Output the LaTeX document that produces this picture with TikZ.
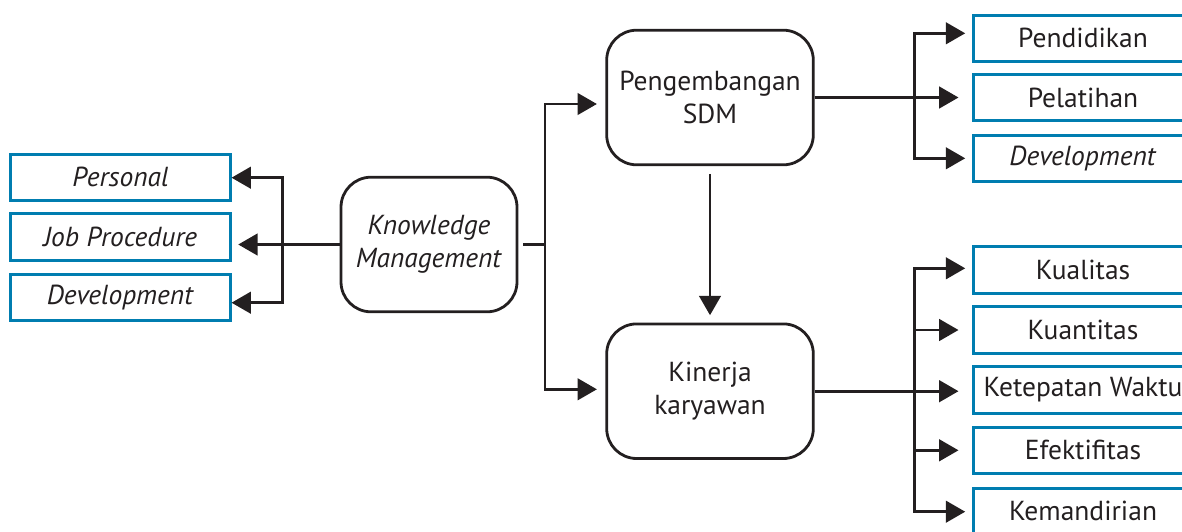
\documentclass[tikz,border=0pt]{standalone}
\usepackage{fontspec}
\setmainfont{PT Sans}
\usetikzlibrary{arrows.meta}
\definecolor{ink}{RGB}{35,31,32}
\definecolor{boxblue}{RGB}{0,125,176}
\tikzset{
  txt/.style={font=\fontsize{27.5}{33.5}\selectfont, text=ink, align=center, inner sep=0pt},
  rbox/.style={txt, draw=ink, line width=2.8pt, rounded corners=30pt, minimum width=206.6pt, minimum height=134.6pt},
  bbox/.style={txt, draw=boxblue, line width=3pt, minimum width=219.4pt, minimum height=46.6pt},
  ln/.style={draw=ink, line width=2.7pt},
  tip/.tip={Triangle[length=19.3pt,width=21.5pt]},
  arr/.style={ln, -{tip}},
  arrb/.style={ln, {tip}-{tip}}
}
\begin{document}
\begin{tikzpicture}[x=1pt,y=-1pt]
\useasboundingbox (0,0) rectangle (1182,531);
\begin{scope}
\clip (0,0) rectangle (1182,531);
% central nodes
\node[rbox, minimum width=176pt] (km) at (429,244.5) {\textit{Knowledge}\\\textit{Management}};
\node[rbox] (psdm) at (710,97.5) {Pengembangan\\SDM};
\node[rbox] (kin) at (710,391.2) {Kinerja\\karyawan};
% left boxes
\node[bbox] (pers) at (120.35,177.3) {\textit{Personal}};
\node[bbox] (jp) at (120.35,236.7) {\textit{Job Procedure}};
\node[bbox] (ldev) at (120.35,297.3) {\textit{Development}};
% right top boxes
\node[bbox] (pend) at (1083,38.3) {Pendidikan};
\node[bbox] (pel) at (1083,97.5) {Pelatihan};
\node[bbox] (rdev) at (1083,158.3) {\textit{Development}};
% right bottom boxes
\node[bbox] (kual) at (1083,270) {Kualitas};
\node[bbox] (kuan) at (1083,330) {Kuantitas};
\node[bbox] (ket) at (1083,390) {Ketepatan Waktu};
\node[bbox] (efek) at (1083,450.3) {Efektifitas};
\node[bbox] (kem) at (1083,511.3) {Kemandirian};
% hub coordinates
\coordinate (hLt) at (282.7,177.7);
\coordinate (hLb) at (282.7,302.7);
\coordinate (mT) at (545,104);
\coordinate (mB) at (545,389.3);
\coordinate (rTt) at (914.3,33.3);
\coordinate (rTb) at (914.3,158.3);
\coordinate (rBt) at (914.3,268.3);
\coordinate (rBb) at (914.3,511.7);
% left connectors
\draw[arrb] (hLt -| pers.east) -- (hLt) -- (hLb) -- (hLb -| ldev.east);
\draw[arr, shorten >=6.7pt] (km.west) -- (km.west -| jp.east);
% middle connectors
\draw[ln] ([xshift=5pt]km.east) -- (km.east -| mT);
\draw[arrb, shorten <=8.4pt, shorten >=8.4pt] (mT -| psdm.west) -- (mT) -- (mB) -- (mB -| kin.west);
\draw[arr, shorten <=7.7pt, shorten >=7.3pt] (psdm.south) -- (kin.north);
% right top connectors
\draw[arrb, shorten <=6.6pt, shorten >=6.6pt] (rTt -| pend.west) -- (rTt) -- (rTb) -- (rTb -| rdev.west);
\draw[arr, shorten >=13.3pt] (psdm.east) -- (pel.west);
% right bottom connectors
\draw[arrb, shorten <=6.6pt, shorten >=6.6pt] (rBt -| kual.west) -- (rBt) -- (rBb) -- (rBb -| kem.west);
\draw[arr, shorten >=13.3pt] (rBt |- kuan.west) -- (kuan.west);
\draw[arr, shorten >=13.3pt] (kin.east) -- (kin.east -| ket.west);
\draw[arr, shorten >=13.3pt] (rBt |- efek.west) -- (efek.west);
\end{scope}
\end{tikzpicture}
\end{document}
